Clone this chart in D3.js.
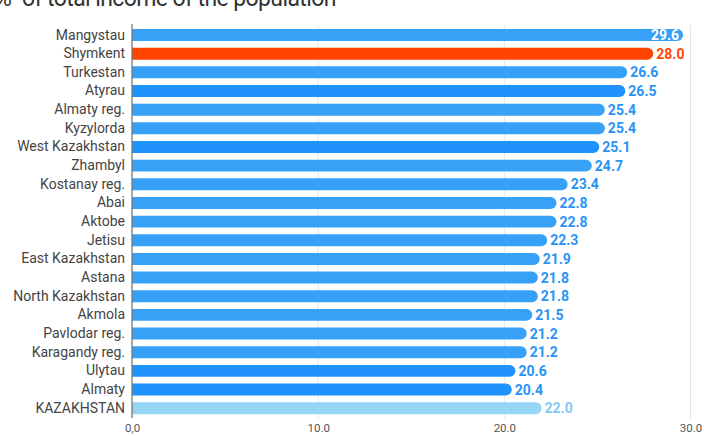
<!DOCTYPE html>
<html>
<head>
<meta charset="utf-8">
<script src="https://cdn.jsdelivr.net/npm/d3@7"></script>
<style>
  html, body { margin: 0; padding: 0; background: #fff; }
  svg { display: block; font-family: Roboto, "Noto Sans", sans-serif; }
</style>
</head>
<body>
<svg id="chart" width="708" height="436"></svg>
<script>
// Share of total income of the population, by region
const regions = [
  "Mangystau", "Shymkent", "Turkestan", "Atyrau", "Almaty reg.", "Kyzylorda",
  "West Kazakhstan", "Zhambyl", "Kostanay reg.", "Abai", "Aktobe", "Jetisu",
  "East Kazakhstan", "Astana", "North Kazakhstan", "Akmola", "Pavlodar reg.",
  "Karagandy reg.", "Ulytau", "Almaty", "KAZAKHSTAN"
];
const shares = [
  29.6, 28.0, 26.6, 26.5, 25.4, 25.4,
  25.1, 24.7, 23.4, 22.8, 22.8, 22.3,
  21.9, 21.8, 21.8, 21.5, 21.2,
  21.2, 20.6, 20.4, 22.0
];
const tickValues = [0, 10, 20, 30];
const tickLabels = ["0,0", "10.0", "20.0", "30.0"];

const highlight = "Shymkent";
const total = "KAZAKHSTAN";
const darkRows = ["Atyrau", "West Kazakhstan", "Ulytau", "Almaty"];

const data = regions.map((r, i) => ({ region: r, value: shares[i] }));

const svg = d3.select("#chart");
const margin = { left: 132, right: 18, top: 25, bottom: 18 };
const W = 708;

const x = d3.scaleLinear().domain([0, 30]).range([margin.left, 690.5]);
const y = d3.scaleBand().domain(regions).range([margin.top + 0.7, 417.5]).paddingInner(0.36).paddingOuter(0.18);

// title
const title = svg.append("text")
  .attr("y", 5.5)
  .attr("font-size", 23).attr("fill", "#333")
  .attr("letter-spacing", -0.6);
title.append("tspan").attr("x", -5).text("%");
title.append("tspan").attr("x", 22).text("of total income of the population");

// vertical grid
svg.append("g").selectAll("line")
  .data(tickValues.filter(v => v > 0))
  .join("line")
  .attr("x1", d => x(d)).attr("x2", d => x(d))
  .attr("y1", margin.top).attr("y2", 419)
  .attr("stroke", "#e6e6e6").attr("stroke-width", 1);

// bottom axis labels
const xAxis = d3.axisBottom(x).tickValues(tickValues)
  .tickFormat((d, i) => tickLabels[i]).tickSize(0).tickPadding(4);
const gx = svg.append("g").attr("transform", "translate(0,420)").call(xAxis);
gx.select(".domain").remove();
gx.selectAll("text").attr("font-size", 11.5).attr("fill", "#555")
  .attr("font-family", "Roboto, sans-serif");

// category labels
const yAxis = d3.axisLeft(y).tickSize(0).tickPadding(7);
const gy = svg.append("g").attr("transform", `translate(${margin.left},0)`).call(yAxis);
gy.select(".domain").remove();
gy.selectAll("text").attr("font-size", 14).attr("fill", "#444")
  .attr("font-family", "Roboto, sans-serif");

function barColor(d) {
  if (d.region === highlight) return "#ff4500";
  if (d.region === total) return "#97d5f5";
  if (darkRows.includes(d.region)) return "#1f92fb";
  return "#37a1f7";
}
function labelColor(d) {
  if (d.region === highlight) return "#ff4500";
  if (d.region === total) return "#86c6f5";
  return "#2a93f4";
}

// bars: square on the axis side, rounded at the end
const bh = y.bandwidth();
const r = bh / 2;
svg.append("g").selectAll("path")
  .data(data)
  .join("path")
  .attr("fill", barColor)
  .attr("d", d => {
    const x0 = x(0), x1 = x(d.value), y0 = y(d.region);
    return `M${x0},${y0}H${x1 - r}A${r},${r} 0 0 1 ${x1 - r},${y0 + bh}H${x0}Z`;
  });

// value labels: outside the bar end, inside when there is no room
const fitsOutside = d => x(d.value) + 34 <= W;
svg.append("g").selectAll("text")
  .data(data)
  .join("text")
  .attr("x", d => fitsOutside(d) ? x(d.value) + 3 : x(d.value) - 4)
  .attr("y", d => y(d.region) + bh / 2)
  .attr("dy", "0.36em")
  .attr("text-anchor", d => fitsOutside(d) ? "start" : "end")
  .attr("font-size", 14).attr("font-weight", 700)
  .attr("font-family", "Roboto, sans-serif")
  .attr("fill", d => fitsOutside(d) ? labelColor(d) : "#fff")
  .text(d => d.value.toFixed(1));

// axis line
svg.append("line")
  .attr("x1", margin.left).attr("x2", margin.left)
  .attr("y1", 24).attr("y2", 418)
  .attr("stroke", "#777").attr("stroke-width", 1.3);
</script>
</body>
</html>
